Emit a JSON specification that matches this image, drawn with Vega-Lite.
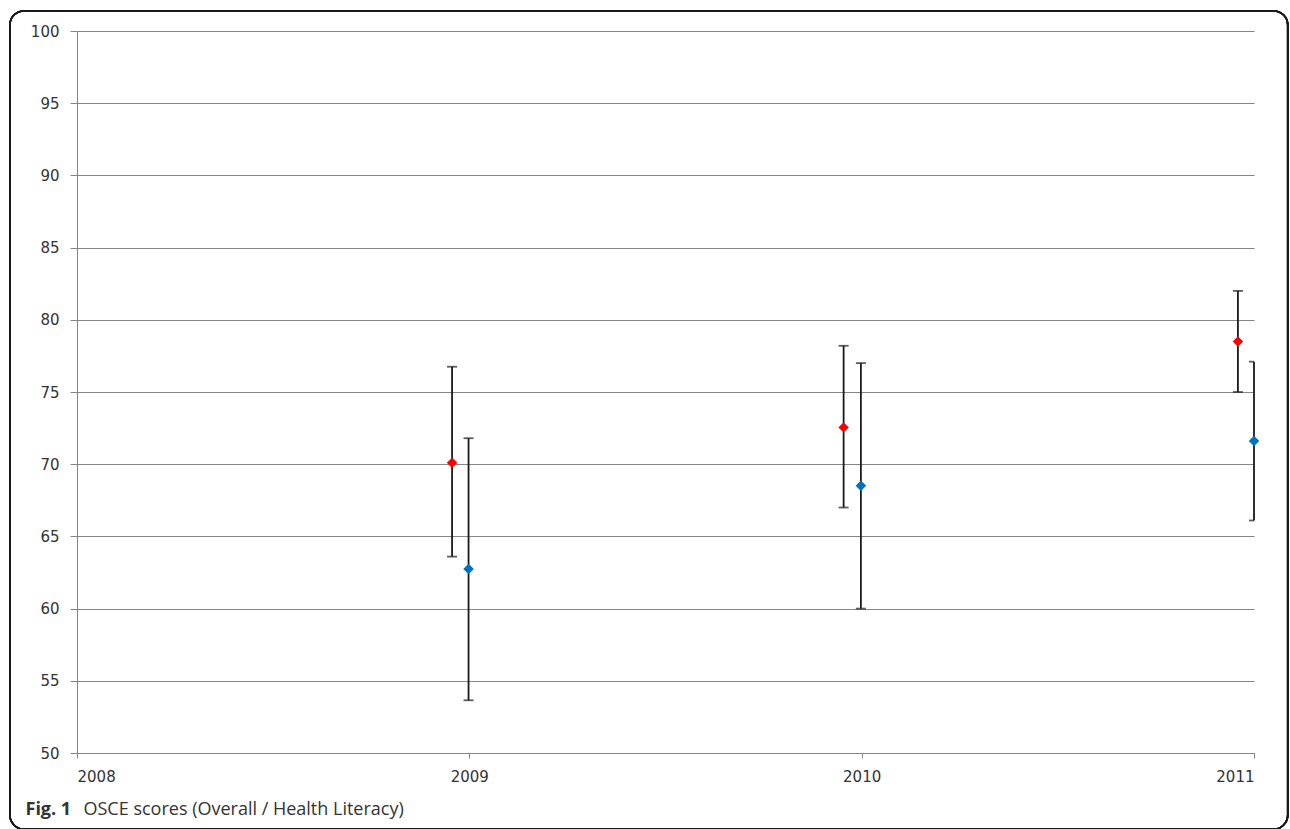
{
  "$schema": "https://vega.github.io/schema/vega-lite/v6.json",
  "autosize": "none",
  "width": 1177,
  "height": 722,
  "padding": {"left": 77, "top": 31, "right": 36, "bottom": 76},
  "background": "white",
  "config": {
    "view": {"stroke": null},
    "axis": {
      "labelFont": "DejaVu Sans",
      "labelFontSize": 15,
      "labelColor": "#333333",
      "domainColor": "#868686",
      "tickColor": "#868686",
      "gridColor": "#868686",
      "gridOpacity": 1,
      "domainWidth": 1,
      "tickWidth": 1
    }
  },
  "data": {
    "values": [
      {"series": "Overall", "year": 2008.956, "mean": 70.1, "lo": 63.6, "hi": 76.75},
      {"series": "Overall", "year": 2009.954, "mean": 72.55, "lo": 67.0, "hi": 78.2},
      {"series": "Overall", "year": 2010.959, "mean": 78.5, "lo": 75.0, "hi": 82.0},
      {"series": "Health Literacy", "year": 2008.998, "mean": 62.75, "lo": 53.65, "hi": 71.8},
      {"series": "Health Literacy", "year": 2009.998, "mean": 68.5, "lo": 60.0, "hi": 77.0},
      {"series": "Health Literacy", "year": 2011.0, "mean": 71.6, "lo": 66.1, "hi": 77.1}
    ]
  },
  "layer": [
    {
      "mark": {"type": "rect", "fill": null, "stroke": "#1a1a1a", "strokeWidth": 1.6, "cornerRadius": 14, "clip": false},
      "encoding": {
        "x": {"datum": 2007.829, "type": "quantitative"},
        "x2": {"datum": 2011.086},
        "y": {"datum": 101.39, "type": "quantitative"},
        "y2": {"datum": 44.73}
      }
    },
    {
      "mark": {"type": "rule", "color": "#1a1a1a", "strokeWidth": 1.8},
      "encoding": {
        "x": {
          "field": "year", "type": "quantitative",
          "scale": {"domain": [2008, 2011], "nice": false, "zero": false},
          "axis": {
            "values": [2008, 2009, 2010, 2011], "format": "d", "grid": false,
            "tickSize": 5, "labelPadding": 11,
            "title": "OSCE scores (Overall / Health Literacy)",
            "titleFont": "Open Sans", "titleFontSize": 18, "titleFontWeight": "normal",
            "titleColor": "#333333", "titleAlign": "left", "titleBaseline": "middle",
            "titleX": 6, "titleY": 56
          }
        },
        "y": {
          "field": "lo", "type": "quantitative",
          "scale": {"domain": [50, 100], "nice": false, "zero": false},
          "axis": {
            "values": [50, 55, 60, 65, 70, 75, 80, 85, 90, 95, 100],
            "grid": true, "tickSize": 7, "labelPadding": 11,
            "title": "Fig. 1",
            "titleFont": "Open Sans", "titleFontSize": 18, "titleFontWeight": "bold",
            "titleColor": "#333333", "titleAngle": 0, "titleAlign": "left", "titleBaseline": "middle",
            "titleX": -52, "titleY": 778
          }
        },
        "y2": {"field": "hi"}
      }
    },
    {
      "transform": [{"fold": ["lo", "hi"], "as": ["end", "v"]}],
      "mark": {"type": "tick", "orient": "horizontal", "size": 10, "thickness": 1.8, "color": "#1a1a1a", "clip": true},
      "encoding": {
        "x": {"field": "year", "type": "quantitative"},
        "y": {"field": "v", "type": "quantitative"}
      }
    },
    {
      "mark": {"type": "point", "shape": "diamond", "filled": true, "size": 110, "opacity": 1},
      "encoding": {
        "x": {"field": "year", "type": "quantitative"},
        "y": {"field": "mean", "type": "quantitative"},
        "color": {
          "field": "series", "type": "nominal",
          "scale": {"domain": ["Overall", "Health Literacy"], "range": ["#ff0000", "#0070c0"]},
          "legend": null
        }
      }
    }
  ]
}
